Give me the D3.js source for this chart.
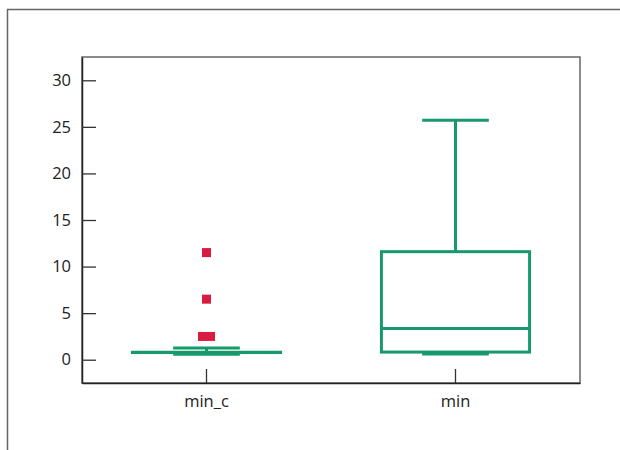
<!DOCTYPE html>
<html>
<head>
<meta charset="utf-8">
<script src="https://cdn.jsdelivr.net/npm/d3@7"></script>
<style>
  body { margin: 0; background: #fff; }
  text { font-family: "Open Sans", sans-serif; fill: #222; }
</style>
</head>
<body>
<div id="chart"></div>
<script>
// box plot summary per category
var categories = ["min_c", "min"];
var lowerWhisker = [0.6, 0.62];
var q1 = [0.77, 0.82];
var median = [0.77, 3.35];
var q3 = [0.8, 11.6];
var upperWhisker = [1.25, 25.7];
// outliers: category index + value
var outlierCat = [0, 0, 0, 0];
var outlierVal = [11.5, 6.5, 2.5, 2.5];
var yTicks = [0, 5, 10, 15, 20, 25, 30];

var width = 620, height = 450;
var plotL = 82, plotR = 580, plotT = 57, plotB = 383;
var green = "#18996c", red = "#d81c41";

var svg = d3.select("#chart").append("svg")
    .attr("width", width)
    .attr("height", height);

// outer frame (top + left only)
svg.append("path")
    .attr("d", "M7.5,450 V9.5 H620")
    .attr("fill", "none")
    .attr("stroke", "#666")
    .attr("stroke-width", 1.5);

var x = d3.scaleBand().domain(categories).range([plotL, plotR]).padding(0);
var y = d3.scaleLinear().domain([-2.5, 32.5]).range([plotB, plotT]);

// plot border
svg.append("rect")
    .attr("x", plotL).attr("y", plotT)
    .attr("width", plotR - plotL).attr("height", plotB - plotT)
    .attr("fill", "none")
    .attr("stroke", "#666")
    .attr("stroke-width", 1.5);

var yAxis = svg.append("g")
    .attr("transform", "translate(" + plotL + ",0)")
    .call(d3.axisLeft(y).tickValues(yTicks).tickSizeInner(-14).tickSizeOuter(0).tickPadding(11));
yAxis.select(".domain").attr("stroke", "#222").attr("stroke-width", 1.5);
yAxis.selectAll(".tick line").attr("stroke", "#333").attr("stroke-width", 1.3);
yAxis.selectAll("text").style("font-size", "16.5px");

var xAxis = svg.append("g")
    .attr("transform", "translate(0," + plotB + ")")
    .call(d3.axisBottom(x).tickSizeInner(-14).tickSizeOuter(0).tickPadding(12));
xAxis.select(".domain").attr("stroke", "#222").attr("stroke-width", 1.5);
xAxis.selectAll(".tick line").attr("stroke", "#333").attr("stroke-width", 1.3);
xAxis.selectAll("text").style("font-size", "16.5px");

var boxW = x.bandwidth() * 0.595;
var capW = boxW * 0.45;

var boxes = svg.append("g").selectAll("g")
    .data(categories)
    .enter().append("g")
    .attr("transform", function(d) { return "translate(" + (x(d) + x.bandwidth() / 2) + ",0)"; });

// whiskers
boxes.append("line")
    .attr("x1", 0).attr("x2", 0)
    .attr("y1", function(d, i) { return y(q3[i]); })
    .attr("y2", function(d, i) { return y(upperWhisker[i]); })
    .attr("stroke", green).attr("stroke-width", 3);
boxes.append("line")
    .attr("x1", 0).attr("x2", 0)
    .attr("y1", function(d, i) { return y(q1[i]); })
    .attr("y2", function(d, i) { return y(lowerWhisker[i]); })
    .attr("stroke", green).attr("stroke-width", 3);
// caps
boxes.append("line")
    .attr("x1", -capW / 2).attr("x2", capW / 2)
    .attr("y1", function(d, i) { return y(upperWhisker[i]); })
    .attr("y2", function(d, i) { return y(upperWhisker[i]); })
    .attr("stroke", green).attr("stroke-width", 3);
boxes.append("line")
    .attr("x1", -capW / 2).attr("x2", capW / 2)
    .attr("y1", function(d, i) { return y(lowerWhisker[i]); })
    .attr("y2", function(d, i) { return y(lowerWhisker[i]); })
    .attr("stroke", green).attr("stroke-width", 3);
// box
boxes.append("rect")
    .attr("x", -boxW / 2)
    .attr("width", boxW)
    .attr("y", function(d, i) { return y(q3[i]); })
    .attr("height", function(d, i) { return Math.max(0, y(q1[i]) - y(q3[i])); })
    .attr("fill", "none")
    .attr("stroke", green).attr("stroke-width", 3);
// median
boxes.append("line")
    .attr("x1", -boxW / 2).attr("x2", boxW / 2)
    .attr("y1", function(d, i) { return y(median[i]); })
    .attr("y2", function(d, i) { return y(median[i]); })
    .attr("stroke", green).attr("stroke-width", 3);

// outliers; equal values get nudged apart so both show
var sq = 9;
svg.append("g").selectAll("rect")
    .data(outlierVal)
    .enter().append("rect")
    .attr("x", function(d, i) {
        var dup = outlierVal.filter(function(v, j) { return v === d && outlierCat[j] === outlierCat[i]; });
        var k = outlierVal.slice(0, i).filter(function(v, j) { return v === d && outlierCat[j] === outlierCat[i]; }).length;
        var off = dup.length > 1 ? (k - (dup.length - 1) / 2) * 8 : 0;
        return x(categories[outlierCat[i]]) + x.bandwidth() / 2 + off - sq / 2;
    })
    .attr("y", function(d) { return y(d) - sq / 2; })
    .attr("width", sq).attr("height", sq)
    .attr("fill", red);
</script>
</body>
</html>
